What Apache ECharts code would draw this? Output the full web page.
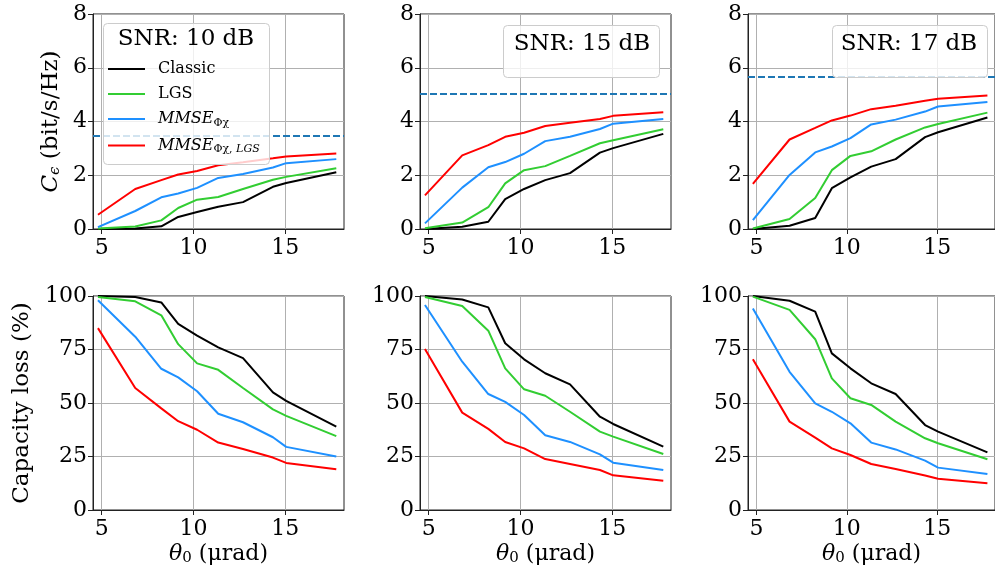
<!DOCTYPE html>
<html><head><meta charset="utf-8">
<script src="https://cdn.jsdelivr.net/npm/echarts@6/dist/echarts.min.js"></script>
<style>html,body{margin:0;padding:0;background:#fff}#c{width:995px;height:578px}</style>
</head><body><div id="c"></div>
<script>
// ---- data ----
const theta = [4.8, 6.83, 8.25, 9.17, 10.2, 11.35, 12.7, 14.33, 15.05, 17.78];
const xTicks = [5, 10, 15];
const snrTitles = ['SNR: 10 dB', 'SNR: 15 dB', 'SNR: 17 dB'];
const shannon = [3.46, 5.03, 5.68];
const methodNames = ['Classic', 'LGS', 'MMSE_PX', 'MMSE_PX_LGS'];
const methodColors = ['#000000', '#32cd32', '#1e90ff', '#ff0000'];

// capacity C_eps (bit/s/Hz), per SNR [10, 15, 17]
const capClassic = [
  [0.00, 0.02, 0.10, 0.45, 0.63, 0.83, 1.00, 1.57, 1.71, 2.11],
  [0.00, 0.08, 0.27, 1.11, 1.49, 1.82, 2.08, 2.84, 3.01, 3.54],
  [0.00, 0.12, 0.41, 1.52, 1.92, 2.32, 2.60, 3.42, 3.60, 4.15]
];
const capLGS = [
  [0.02, 0.09, 0.32, 0.78, 1.09, 1.19, 1.49, 1.83, 1.94, 2.26],
  [0.03, 0.24, 0.81, 1.70, 2.19, 2.34, 2.72, 3.19, 3.30, 3.71],
  [0.02, 0.37, 1.15, 2.19, 2.72, 2.89, 3.33, 3.78, 3.91, 4.33]
];
const capMMSE = [
  [0.07, 0.67, 1.18, 1.32, 1.53, 1.90, 2.05, 2.29, 2.45, 2.60],
  [0.21, 1.54, 2.30, 2.49, 2.80, 3.27, 3.43, 3.72, 3.92, 4.09],
  [0.33, 2.01, 2.85, 3.07, 3.38, 3.89, 4.07, 4.37, 4.56, 4.73]
];
const capMMSELGS = [
  [0.53, 1.49, 1.82, 2.03, 2.16, 2.37, 2.48, 2.63, 2.70, 2.81],
  [1.25, 2.74, 3.12, 3.43, 3.58, 3.83, 3.95, 4.09, 4.21, 4.34],
  [1.68, 3.33, 3.76, 4.04, 4.22, 4.46, 4.59, 4.77, 4.85, 4.97]
];
// capacity loss (%), per SNR [10, 15, 17]
const lossClassic = [
  [100, 99.5, 97, 87, 81.5, 76, 71, 55, 51, 39],
  [100, 98.4, 94.7, 77.9, 70.4, 63.9, 58.7, 43.6, 40.2, 29.6],
  [100, 97.8, 92.7, 73.2, 66.2, 59.2, 54.2, 39.7, 36.6, 26.9]
];
const lossLGS = [
  [99.5, 97.5, 91, 77.5, 68.5, 65.5, 57, 47, 44, 34.5],
  [99.5, 95.3, 83.8, 66.2, 56.4, 53.4, 45.9, 36.6, 34.3, 26.2],
  [99.7, 93.5, 79.8, 61.5, 52.2, 49.1, 41.3, 33.5, 31.2, 23.7]
];
const lossMMSE = [
  [98, 81, 66, 62, 55.5, 45, 41, 34, 29.5, 25],
  [95.8, 69.3, 54.2, 50.5, 44.4, 34.9, 31.8, 26, 22.1, 18.7],
  [94.2, 64.6, 49.8, 45.9, 40.5, 31.5, 28.3, 23.1, 19.8, 16.8]
];
const lossMMSELGS = [
  [85, 57, 47.5, 41.5, 37.5, 31.5, 28.5, 24.5, 22, 19],
  [75.2, 45.5, 37.9, 31.8, 28.8, 23.8, 21.5, 18.7, 16.2, 13.7],
  [70.4, 41.3, 33.8, 28.8, 25.7, 21.5, 19.2, 16.1, 14.6, 12.5]
];

// ---- layout ----
const FONT = 'DejaVu Serif';
const TICK_FS = 22;
const colLeft = [93, 420, 748];
const colWidth = 251;
const rowTop = [14, 296];
const rowHeight = [215, 214];
const X_MIN = 4.53, X_MAX = 18.2;

const grids = [], xAxes = [], yAxes = [], series = [];
const capSets = [capClassic, capLGS, capMMSE, capMMSELGS];
const lossSets = [lossClassic, lossLGS, lossMMSE, lossMMSELGS];

for (let r = 0; r < 2; r++) {
  for (let c = 0; c < 3; c++) {
    const gi = r * 3 + c;
    grids.push({left: colLeft[c], top: rowTop[r], width: colWidth, height: rowHeight[r],
      show: true, borderColor: '#222', borderWidth: 1, backgroundColor: 'transparent'});
    const xa = {
      type: 'value', gridIndex: gi, min: X_MIN, max: X_MAX,
      axisLine: {show: true, onZero: false, lineStyle: {color: '#222', width: 1}},
      axisTick: {show: true, length: 5, customValues: xTicks, lineStyle: {color: '#222'}},
      axisLabel: {customValues: xTicks, fontFamily: FONT, fontSize: TICK_FS, color: '#000', margin: 8},
      splitLine: {show: true, lineStyle: {color: '#b0b0b0', width: 1}}
    };
    if (r === 1) {
      xa.name = '{i|θ}{s|0} (μrad)';
      xa.nameLocation = 'middle';
      xa.nameGap = 32;
      xa.nameTextStyle = {fontFamily: FONT, fontSize: 22, color: '#000',
        rich: {i: {fontFamily: FONT, fontSize: 22, fontStyle: 'italic', color: '#000'},
               s: {fontFamily: FONT, fontSize: 15, color: '#000', padding: [9, 0, 0, 0]}}};
    }
    xAxes.push(xa);
    const ya = {
      type: 'value', gridIndex: gi, min: 0, max: r === 0 ? 8 : 100, interval: r === 0 ? 2 : 25,
      axisLine: {show: true, lineStyle: {color: '#222', width: 1}},
      axisTick: {show: true, length: 5, lineStyle: {color: '#222'}},
      axisLabel: {fontFamily: FONT, fontSize: TICK_FS, color: '#000', margin: 6},
      splitLine: {show: true, lineStyle: {color: '#b0b0b0', width: 1}}
    };
    if (c === 0) {
      ya.nameLocation = 'middle';
      if (r === 0) {
        ya.name = '{i|C}{s|ϵ} (bit/s/Hz)';
        ya.nameGap = 30;
      } else {
        ya.name = 'Capacity loss (%)';
        ya.nameGap = 59;
      }
      ya.nameTextStyle = {fontFamily: FONT, fontSize: 23, color: '#000',
        rich: {i: {fontFamily: FONT, fontSize: 23, fontStyle: 'italic', color: '#000'},
               s: {fontFamily: FONT, fontSize: 15, fontStyle: 'italic', color: '#000', padding: [9, 0, 0, 0]}}};
    }
    yAxes.push(ya);
    const sets = r === 0 ? capSets : lossSets;
    for (let m = 0; m < 4; m++) {
      const s = {
        type: 'line', name: methodNames[m], xAxisIndex: gi, yAxisIndex: gi,
        data: theta.map((t, k) => [t, sets[m][c][k]]),
        symbol: 'none', showSymbol: false, smooth: false, silent: true, animation: false,
        lineStyle: {color: methodColors[m], width: 2}, itemStyle: {color: methodColors[m]}, z: 3
      };
      if (r === 0 && m === 0) {
        s.markLine = {
          silent: true, symbol: 'none', animation: false, label: {show: false},
          lineStyle: {color: '#1f77b4', type: [7, 3], width: 2},
          data: [{yAxis: shannon[c]}]
        };
      }
      series.push(s);
    }
  }
}

const legendLabels = {
  'Classic': '{n|Classic}',
  'LGS': '{n|LGS}',
  'MMSE_PX': '{i|MMSE}{s|Φχ}',
  'MMSE_PX_LGS': '{i|MMSE}{s|Φχ, }{si|LGS}'
};

const graphic = [
  {type: 'rect', z: 100, shape: {x: 103.5, y: 23.5, width: 166, height: 141, r: 4},
   style: {fill: 'rgba(255,255,255,0.8)', stroke: '#cccccc', lineWidth: 1}},
  {type: 'text', z: 101, style: {text: snrTitles[0], x: 186, y: 39, font: '23px "DejaVu Serif"', fill: '#000',
   align: 'center', verticalAlign: 'middle', textAlign: 'center', textVerticalAlign: 'middle'}},
  {type: 'rect', z: 100, shape: {x: 503.5, y: 25.5, width: 156, height: 52, r: 4},
   style: {fill: 'rgba(255,255,255,0.8)', stroke: '#cccccc', lineWidth: 1}},
  {type: 'text', z: 101, style: {text: snrTitles[1], x: 582, y: 44, font: '23px "DejaVu Serif"', fill: '#000',
   align: 'center', verticalAlign: 'middle', textAlign: 'center', textVerticalAlign: 'middle'}},
  {type: 'rect', z: 100, shape: {x: 832.5, y: 25.5, width: 155, height: 52, r: 4},
   style: {fill: 'rgba(255,255,255,0.8)', stroke: '#cccccc', lineWidth: 1}},
  {type: 'text', z: 101, style: {text: snrTitles[2], x: 909, y: 44, font: '23px "DejaVu Serif"', fill: '#000',
   align: 'center', verticalAlign: 'middle', textAlign: 'center', textVerticalAlign: 'middle'}}
];

const chart = echarts.init(document.getElementById('c'), null, {renderer: 'canvas'});
chart.setOption({
  animation: false,
  backgroundColor: '#ffffff',
  textStyle: {fontFamily: FONT},
  grid: grids,
  xAxis: xAxes,
  yAxis: yAxes,
  series: series,
  graphic: graphic,
  legend: {
    show: true, orient: 'vertical', left: 108, top: 61, padding: 0, z: 102,
    icon: 'rect', itemWidth: 37, itemHeight: 2, itemGap: 9, selectedMode: false,
    data: methodNames,
    formatter: (name) => legendLabels[name],
    textStyle: {fontFamily: FONT, fontSize: 16, color: '#000', padding: [0, 0, 0, 8],
      rich: {
        n: {fontFamily: FONT, fontSize: 16, color: '#000'},
        i: {fontFamily: FONT, fontSize: 16, fontStyle: 'italic', color: '#000'},
        s: {fontFamily: FONT, fontSize: 11, color: '#000', padding: [8, 0, 0, 0]},
        si: {fontFamily: FONT, fontSize: 11, fontStyle: 'italic', color: '#000', padding: [8, 0, 0, 0]}
      }}
  }
});
</script>
</body></html>
